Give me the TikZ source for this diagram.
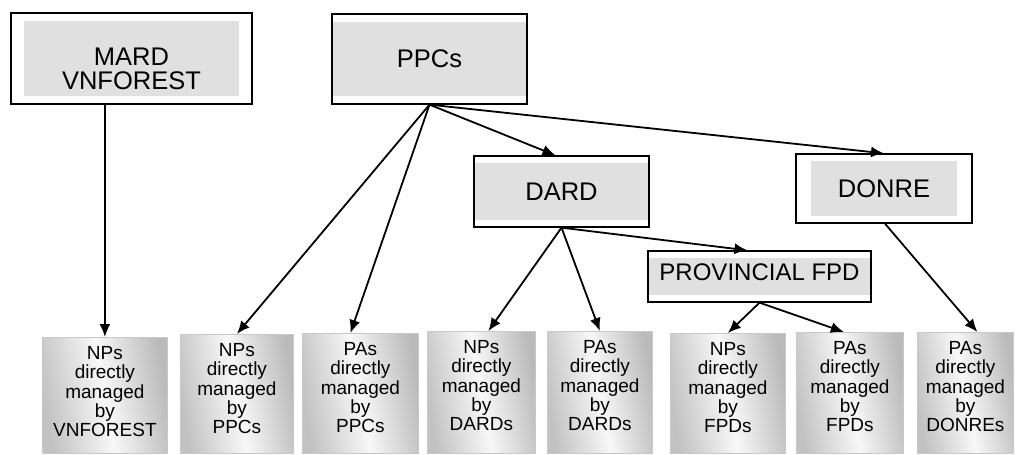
\documentclass[tikz,border=0pt]{standalone}
\usepackage{fontspec}
\setmainfont{Liberation Sans}
\usetikzlibrary{arrows.meta,calc,shadings}
\definecolor{boxgray}{RGB}{224,224,224}
\definecolor{edgegray}{RGB}{200,200,200}
\tikzset{
  topbox/.style 2 args={draw=black, line width=1.3pt, fill=white, inner sep=0pt,
    path picture={\fill[boxgray] ([xshift=#1,yshift=-#2]path picture bounding box.north west) rectangle ([xshift=-#1,yshift=#2]path picture bounding box.south east);},
    font=\fontsize{25.5}{26}\selectfont, align=center},
  leafbox/.style={draw=edgegray, line width=0.8pt, anchor=north west, inner sep=0pt,
    left color=black!24, right color=black!27, middle color=black!3, shading angle=100},
  leaftext/.style={anchor=north, yshift=-6pt, align=center, font=\fontsize{19}{19.25}\selectfont},
  arr/.style={line width=1.8pt, -{Latex[length=13pt,width=11pt]}},
}
\begin{document}
\begin{tikzpicture}[x=1pt,y=-1pt]
\useasboundingbox (0,0) rectangle (1018,455);
% top boxes
\node[topbox={13pt}{8pt}, minimum width=241pt, minimum height=91pt] (mard) at (131.5,58.5) {};
\node[font=\fontsize{25.5}{24.5}\selectfont, align=center] (mardt) at (131.5,69) {MARD\\VNFOREST};
\node[topbox={0pt}{8pt}, minimum width=195pt, minimum height=90pt] (ppc) at (429.5,59) {PPCs};
\node[topbox={0pt}{7pt}, minimum width=175pt, minimum height=71pt] (dard) at (561.5,191.5) {DARD};
\node[topbox={15pt}{7pt}, minimum width=176pt, minimum height=69pt] (donre) at (884,188.5) {DONRE};
\node[topbox={0pt}{7pt}, minimum width=223pt, minimum height=51pt] (fpd) at (759.5,276.5) {};
\node[font=\fontsize{24}{24}\selectfont] (fpdt) at (759.5,272) {PROVINCIAL FPD};
% leaf boxes
\node[leafbox, minimum width=125pt, minimum height=116pt] (b1) at (42,337) {};
\node[leaftext] at (b1.north) {NPs\\directly\\managed\\by\\VNFOREST};
\node[leafbox, minimum width=113pt, minimum height=119pt] (b2) at (180,334) {};
\node[leaftext] at (b2.north) {NPs\\directly\\managed\\by\\PPCs};
\node[leafbox, minimum width=116pt, minimum height=120pt] (b3) at (302,333) {};
\node[leaftext] at (b3.north) {PAs\\directly\\managed\\by\\PPCs};
\node[leafbox, minimum width=108pt, minimum height=122pt] (b4) at (427,331) {};
\node[leaftext] at (b4.north) {NPs\\directly\\managed\\by\\DARDs};
\node[leafbox, minimum width=105pt, minimum height=122pt] (b5) at (547,331) {};
\node[leaftext] at (b5.north) {PAs\\directly\\managed\\by\\DARDs};
\node[leafbox, minimum width=115pt, minimum height=120pt] (b6) at (670,333) {};
\node[leaftext] at (b6.north) {NPs\\directly\\managed\\by\\FPDs};
\node[leafbox, minimum width=107pt, minimum height=121pt] (b7) at (796,332) {};
\node[leaftext] at (b7.north) {PAs\\directly\\managed\\by\\FPDs};
\node[leafbox, minimum width=96pt, minimum height=121pt] (b8) at (917,332) {};
\node[leaftext] at (b8.north) {PAs\\directly\\managed\\by\\DONREs};
% connectors
\draw[arr] (mard.south -| b1.north) -- (b1.north);
\draw[arr] (ppc.south) -- (b2.north);
\draw[arr] (ppc.south) -- ($(b3.north)+(-10,0)$);
\draw[arr] (ppc.south) -- ($(dard.north)+(-6,0)$);
\draw[arr] (ppc.south) -- (donre.north);
\draw[arr] (dard.south) -- ($(b4.north)+(7,0)$);
\draw[arr] (dard.south) -- (b5.north);
\draw[arr] (dard.south) -- ($(fpd.north)+(-12,0)$);
\draw[arr] (fpd.south) -- (b6.north);
\draw[arr] (fpd.south) -- ($(b7.north)+(-6,0)$);
\draw[arr] ($(donre.south)+(1,0)$) -- ($(b8.north)+(12,0)$);
\end{tikzpicture}
\end{document}
